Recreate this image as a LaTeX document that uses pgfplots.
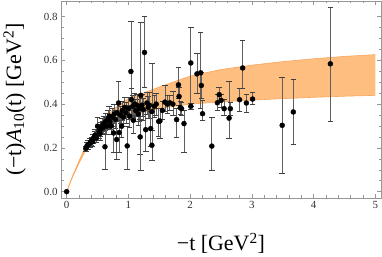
\documentclass[border=0pt]{standalone}
\usepackage{fontspec}
\setmainfont{Liberation Serif}
\usepackage{pgfplots}
\pgfplotsset{compat=1.18}
\usepgfplotslibrary{fillbetween}
\usepackage{pgfplotstable}
\definecolor{bandfill}{RGB}{253,190,128}
\definecolor{bandedge}{RGB}{250,165,90}
\definecolor{framegray}{RGB}{150,150,150}
\definecolor{errgray}{RGB}{95,95,95}

\pgfplotstableread{
t v ep em
0 0 0 0
0.31 0.197 0.012 0.012
0.33 0.210 0.015 0.015
0.35 0.215 0.02 0.02
0.38 0.224 0.02 0.02
0.40 0.232 0.018 0.018
0.42 0.228 0.02 0.02
0.43 0.243 0.02 0.02
0.45 0.250 0.025 0.025
0.46 0.258 0.025 0.025
0.48 0.245 0.02 0.02
0.50 0.299 0.04 0.04
0.52 0.275 0.03 0.03
0.54 0.265 0.03 0.03
0.55 0.285 0.03 0.03
0.57 0.300 0.035 0.035
0.59 0.292 0.03 0.03
0.60 0.310 0.035 0.035
0.62 0.205 0.095 0.105
0.63 0.320 0.04 0.04
0.65 0.300 0.04 0.04
0.67 0.330 0.04 0.04
0.69 0.345 0.045 0.045
0.70 0.320 0.035 0.035
0.72 0.300 0.04 0.04
0.74 0.340 0.04 0.04
0.76 0.268 0.08 0.086
0.77 0.355 0.045 0.045
0.79 0.330 0.04 0.04
0.81 0.238 0.09 0.09
0.82 0.360 0.04 0.04
0.84 0.405 0.10 0.08
0.85 0.270 0.09 0.092
0.87 0.350 0.04 0.04
0.89 0.299 0.05 0.05
0.90 0.370 0.045 0.045
0.92 0.340 0.04 0.04
0.94 0.385 0.045 0.045
0.96 0.360 0.05 0.05
0.98 0.209 0.09 0.107
1.00 0.380 0.05 0.05
1.02 0.345 0.05 0.05
1.04 0.549 0.227 0.22
1.05 0.420 0.05 0.05
1.07 0.390 0.05 0.05
1.08 0.326 0.06 0.06
1.10 0.400 0.05 0.05
1.12 0.370 0.05 0.05
1.14 0.395 0.05 0.05
1.16 0.355 0.05 0.05
1.18 0.380 0.06 0.06
1.19 0.250 0.08 0.08
1.20 0.440 0.333 0.343
1.22 0.395 0.05 0.05
1.24 0.375 0.05 0.05
1.26 0.636 0.164 0.159
1.28 0.283 0.09 0.10
1.30 0.405 0.05 0.05
1.32 0.385 0.05 0.05
1.34 0.395 0.06 0.06
1.36 0.288 0.08 0.08
1.38 0.212 0.07 0.068
1.38 0.366 0.222 0.222
1.42 0.390 0.05 0.05
1.45 0.400 0.05 0.05
1.49 0.321 0.06 0.07
1.51 0.323 0.06 0.08
1.55 0.371 0.04 0.04
1.59 0.409 0.076 0.04
1.63 0.400 0.04 0.04
1.67 0.406 0.035 0.035
1.72 0.400 0.06 0.05
1.78 0.329 0.05 0.079
1.81 0.488 0.08 0.06
1.82 0.435 0.04 0.04
1.84 0.384 0.03 0.03
1.86 0.379 0.03 0.03
1.90 0.311 0.06 0.132
2.01 0.588 0.165 0.2
2.01 0.390 0.015 0.015
2.11 0.538 0.096 0.09
2.17 0.543 0.184 0.16
2.18 0.485 0.06 0.06
2.20 0.356 0.06 0.03
2.35 0.208 0.133 0.109
2.44 0.406 0.041 0.035
2.47 0.443 0.034 0.034
2.50 0.417 0.03 0.03
2.55 0.379 0.041 0.032
2.63 0.336 0.167 0.093
2.65 0.379 0.03 0.03
2.80 0.420 0.05 0.053
2.85 0.565 0.128 0.095
2.91 0.405 0.038 0.044
3.01 0.423 0.029 0.026
3.49 0.303 0.22 0.217
3.67 0.364 0.148 0.147
4.27 0.584 0.26 0.261
}\datatable

\begin{document}
\begin{tikzpicture}
\begin{axis}[
  scale only axis,
  width=320bp, height=197bp,
  xmin=-0.092, xmax=5.09,
  ymin=-0.029, ymax=0.871,
  xtick={0,1,2,3,4,5},
  ytick={0,0.2,0.4,0.6,0.8},
  minor x tick num=4,
  minor y tick num=3,
  tick align=inside,
  major tick length=4bp,
  minor tick length=2.5bp,
  axis line style={framegray, line width=0.6pt},
  every tick/.style={framegray, line width=0.5pt},
  xticklabel pos=lower, yticklabel pos=left,
  xtick pos=both, ytick pos=both,
  /pgf/number format/assume math mode=true,
  yticklabel style={/pgf/number format/.cd, fixed, zerofill, precision=1},
  ticklabel style={font=\fontsize{11}{13}\selectfont, text=black!80},
  xlabel={−t [GeV\textsuperscript{2}]},
  ylabel={(−t)\textit{A}\textsubscript{10}(t) [GeV\textsuperscript{2}]},
  label style={font=\fontsize{22}{26}\selectfont},
  xlabel style={at={(axis description cs:0.5,-0.23)}, anchor=center},
  ylabel style={at={(axis description cs:-0.145,0.5)}, anchor=center},
  clip=true,
]
\addplot[name path=U, draw=bandedge, line width=0.6pt] coordinates {
(0,0) (0.1,0.075) (0.2,0.14) (0.3,0.205) (0.5,0.29) (0.75,0.375) (1,0.425)
(1.5,0.478) (2,0.528) (2.5,0.558) (3,0.578) (3.5,0.594) (4,0.607) (4.5,0.618) (5,0.626)};
\addplot[name path=L, draw=bandedge, line width=0.6pt] coordinates {
(0,0) (0.1,0.07) (0.2,0.13) (0.3,0.185) (0.5,0.255) (0.75,0.31) (1,0.345)
(1.5,0.38) (2,0.4) (2.5,0.41) (3,0.418) (3.5,0.425) (4,0.431) (4.5,0.436) (5,0.44)};
\addplot[bandfill] fill between[of=U and L];
\addplot[only marks, mark=*, mark size=2.5bp, black,
  error bars/.cd, y dir=both, y explicit,
  error bar style={errgray, line width=0.7pt},
  error mark options={rotate=90, mark size=2.8bp, black!75, line width=0.6pt}]
  table[x=t, y=v, y error plus=ep, y error minus=em] {\datatable};
\end{axis}
\pgfresetboundingbox
\path ([shift={(-61bp,-59bp)}]current axis.south west) rectangle ([shift={(1bp,1bp)}]current axis.north east);
\end{tikzpicture}
\end{document}
